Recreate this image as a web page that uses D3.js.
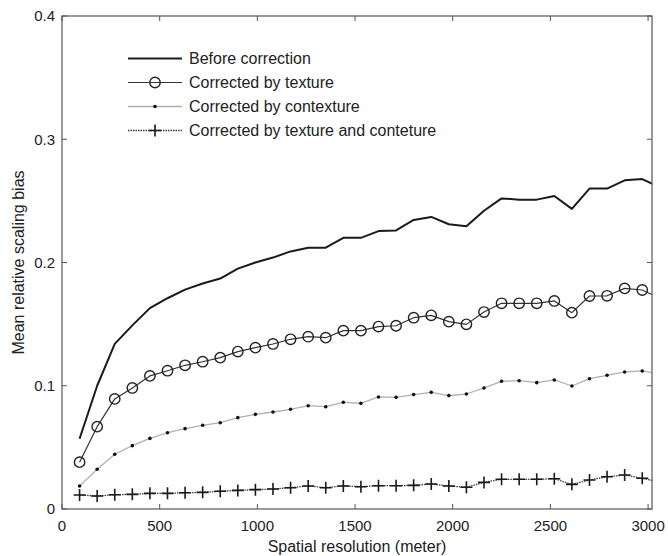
<!DOCTYPE html>
<html>
<head>
<meta charset="utf-8">
<script src="https://cdn.jsdelivr.net/npm/d3@7"></script>
<style>
  body { margin: 0; background: #fff; }
  text { font-family: "Liberation Sans", Arial, sans-serif; fill: #222; }
</style>
</head>
<body>
<svg id="chart" width="668" height="556"></svg>
<script>
// spatial resolution (meter) of each sample
var resolution = [90, 180, 270, 360, 450, 540, 630, 720, 810, 900, 990, 1080, 1170, 1260, 1350,
  1440, 1530, 1620, 1710, 1800, 1890, 1980, 2070, 2160, 2250, 2340, 2430, 2520, 2610, 2700,
  2790, 2880, 2970, 3060];

var beforeCorrection = [0.057, 0.100, 0.134, 0.149, 0.163, 0.171, 0.178, 0.183, 0.187, 0.195,
  0.200, 0.204, 0.209, 0.212, 0.212, 0.220, 0.220, 0.2255, 0.226, 0.2345, 0.237, 0.231, 0.2295,
  0.242, 0.252, 0.251, 0.251, 0.254, 0.2435, 0.260, 0.260, 0.2667, 0.2677, 0.261];

var byTexture = [0.038, 0.0668, 0.0893, 0.0982, 0.108, 0.1122, 0.1166, 0.1195, 0.1228, 0.1277,
  0.1309, 0.1339, 0.1377, 0.1398, 0.139, 0.1447, 0.1447, 0.148, 0.1487, 0.1552, 0.1571, 0.152,
  0.1498, 0.1598, 0.1669, 0.1669, 0.1669, 0.1688, 0.1593, 0.1728, 0.173, 0.179, 0.1777, 0.171];

var byContexture = [0.0187, 0.0322, 0.0444, 0.0514, 0.0573, 0.0619, 0.0652, 0.0679, 0.070, 0.0741,
  0.0768, 0.0787, 0.0809, 0.0838, 0.083, 0.0866, 0.0857, 0.0909, 0.0906, 0.0928, 0.0947, 0.092,
  0.0933, 0.0982, 0.1036, 0.1041, 0.1025, 0.1047, 0.0998, 0.1057, 0.1085, 0.1112, 0.112, 0.1095];

var byBoth = [0.0114, 0.0105, 0.0116, 0.0119, 0.0127, 0.0127, 0.0132, 0.0135, 0.0144, 0.0151,
  0.0157, 0.0162, 0.0173, 0.0187, 0.0173, 0.0187, 0.0181, 0.0189, 0.0189, 0.0192, 0.0203, 0.0187,
  0.0176, 0.0216, 0.0241, 0.0241, 0.0241, 0.0246, 0.020, 0.0235, 0.0262, 0.0276, 0.0249, 0.022];

var seriesNames = ['Before correction', 'Corrected by texture', 'Corrected by contexture',
  'Corrected by texture and conteture'];

var xTicks = [0, 500, 1000, 1500, 2000, 2500, 3000];
var yTicks = [0, 0.1, 0.2, 0.3, 0.4];

var margin = {left: 62, right: 16, top: 16, bottom: 47};
var width = 668, height = 556;
var tickLen = 5;
var axisColor = '#555';

var x = d3.scaleLinear().domain([0, 3020]).range([margin.left, width - margin.right]);
var y = d3.scaleLinear().domain([0, 0.4]).range([height - margin.bottom, margin.top]);

var svg = d3.select('#chart');

svg.append('defs').append('clipPath').attr('id', 'plotClip')
  .append('rect')
  .attr('x', x.range()[0]).attr('y', y.range()[1])
  .attr('width', x.range()[1] - x.range()[0])
  .attr('height', y.range()[0] - y.range()[1]);

// series styles (line + marker)
var series = [
  {name: seriesNames[0], values: beforeCorrection, stroke: '#1a1a1a', width: 2, dash: null, marker: 'none'},
  {name: seriesNames[1], values: byTexture, stroke: '#333', width: 1.2, dash: null, marker: 'circle'},
  {name: seriesNames[2], values: byContexture, stroke: '#b0b0b0', width: 1.3, dash: null, marker: 'dot'},
  {name: seriesNames[3], values: byBoth, stroke: '#3a3a3a', width: 1.3, dash: '1.5,1', marker: 'plus'}
];

var line = d3.line()
  .x(function(d) { return x(d[0]); })
  .y(function(d) { return y(d[1]); });

function drawMarker(g, type, cx, cy) {
  if (type === 'circle') {
    g.append('circle').attr('cx', cx).attr('cy', cy).attr('r', 5.2)
      .attr('fill', 'none').attr('stroke', '#222').attr('stroke-width', 1.4);
  } else if (type === 'dot') {
    g.append('circle').attr('cx', cx).attr('cy', cy).attr('r', 1.8).attr('fill', '#111');
  } else if (type === 'plus') {
    g.append('path')
      .attr('d', 'M' + (cx - 6) + ',' + cy + 'H' + (cx + 6) + 'M' + cx + ',' + (cy - 6) + 'V' + (cy + 6))
      .attr('stroke', '#1a1a1a').attr('stroke-width', 1.6);
  }
}

var plot = svg.append('g').attr('clip-path', 'url(#plotClip)');

series.forEach(function(s) {
  var pts = resolution.map(function(r, i) { return [r, s.values[i]]; });
  plot.append('path')
    .attr('d', line(pts))
    .attr('fill', 'none')
    .attr('stroke', s.stroke)
    .attr('stroke-width', s.width)
    .attr('stroke-dasharray', s.dash)
    .attr('stroke-linejoin', 'round');
  var mg = plot.append('g');
  pts.forEach(function(p) {
    // markers whose centre falls outside the axis limits are not drawn
    if (p[0] <= x.domain()[1]) drawMarker(mg, s.marker, x(p[0]), y(p[1]));
  });
});

// box + inward ticks on all four sides
var frame = svg.append('g').attr('stroke', axisColor).attr('fill', 'none');
frame.append('rect')
  .attr('x', x.range()[0]).attr('y', y.range()[1])
  .attr('width', x.range()[1] - x.range()[0])
  .attr('height', y.range()[0] - y.range()[1])
  .attr('stroke-width', 1.2);

xTicks.forEach(function(t) {
  frame.append('line').attr('x1', x(t)).attr('x2', x(t))
    .attr('y1', y.range()[0]).attr('y2', y.range()[0] - tickLen);
  frame.append('line').attr('x1', x(t)).attr('x2', x(t))
    .attr('y1', y.range()[1]).attr('y2', y.range()[1] + tickLen);
});
yTicks.forEach(function(t) {
  frame.append('line').attr('y1', y(t)).attr('y2', y(t))
    .attr('x1', x.range()[0]).attr('x2', x.range()[0] + tickLen);
  frame.append('line').attr('y1', y(t)).attr('y2', y(t))
    .attr('x1', x.range()[1]).attr('x2', x.range()[1] - tickLen);
});

// tick labels
svg.append('g').selectAll('text')
  .data(xTicks).enter().append('text')
  .attr('x', function(d) { return x(d); })
  .attr('y', y.range()[0] + 22)
  .attr('text-anchor', 'middle')
  .attr('font-size', 15)
  .text(function(d) { return d; });

svg.append('g').selectAll('text')
  .data(yTicks).enter().append('text')
  .attr('x', x.range()[0] - 7)
  .attr('y', function(d) { return y(d); })
  .attr('dy', '.35em')
  .attr('text-anchor', 'end')
  .attr('font-size', 15)
  .text(function(d) { return d === 0 ? '0' : d3.format('.1f')(d); });

// axis titles
svg.append('text')
  .attr('x', (x.range()[0] + x.range()[1]) / 2)
  .attr('y', 552)
  .attr('text-anchor', 'middle')
  .attr('font-size', 16)
  .text('Spatial resolution (meter)');

svg.append('text')
  .attr('transform', 'translate(24,' + (y.range()[0] + y.range()[1]) / 2 + ') rotate(-90)')
  .attr('text-anchor', 'middle')
  .attr('font-size', 16)
  .text('Mean relative scaling bias');

// legend (no box)
var legend = svg.append('g');
series.forEach(function(s, i) {
  var ly = 58.5 + i * 24;
  legend.append('line')
    .attr('x1', 128).attr('x2', 182).attr('y1', ly).attr('y2', ly)
    .attr('stroke', s.stroke).attr('stroke-width', s.width)
    .attr('stroke-dasharray', s.dash);
  drawMarker(legend, s.marker, 155, ly);
  legend.append('text')
    .attr('x', 189).attr('y', ly)
    .attr('dy', '.35em')
    .attr('font-size', 16)
    .text(s.name);
});
</script>
</body>
</html>
